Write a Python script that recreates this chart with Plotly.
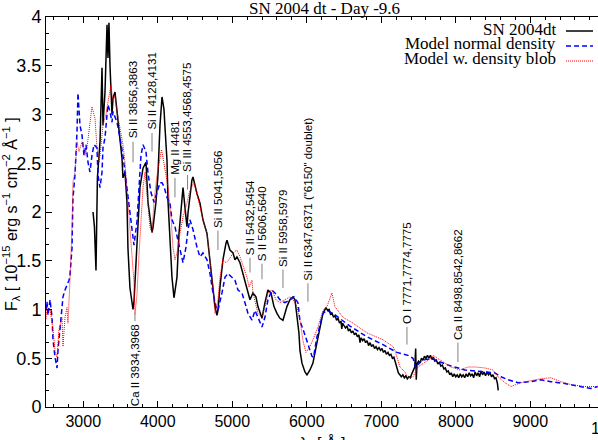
import plotly.graph_objects as go

# ---- observed spectrum SN 2004dt ----
obs_wave = [3131, 3150, 3171, 3190, 3225, 3238, 3252, 3265, 3292, 3319, 3332, 3345, 3359,
            3386, 3399, 3426, 3453, 3466, 3493, 3520, 3533, 3560, 3587, 3600, 3627, 3654,
            3668, 3681, 3694, 3721, 3761, 3802, 3842, 3869, 3923, 3936, 3976, 4003, 4030,
            4057, 4084, 4097, 4124, 4137, 4164, 4191, 4218, 4258, 4285, 4325, 4339, 4365,
            4392, 4406, 4432, 4459, 4473, 4500, 4526, 4567, 4607, 4661, 4674, 4701, 4728,
            4741, 4768, 4795, 4808, 4835, 4875, 4916, 4929, 4969, 5010, 5036, 5063, 5104,
            5144, 5198, 5238, 5278, 5318, 5345, 5399, 5439, 5479, 5520, 5560, 5600, 5640,
            5681, 5734, 5774, 5815, 5842, 5868, 5895, 5909, 5936, 5976, 6003, 6043, 6083,
            6137, 6177, 6217, 6258, 6280, 6300, 6320, 6340, 6360, 6380, 6400, 6420, 6440,
            6460, 6470, 6480, 6500, 6520, 6540, 6560, 6580, 6600, 6620, 6640, 6660, 6680,
            6700, 6715, 6730, 6750, 6770, 6790, 6810, 6830, 6850, 6870, 6890, 6910, 6930,
            6950, 6970, 6990, 7010, 7030, 7050, 7070, 7090, 7110, 7130, 7150, 7170, 7190,
            7210, 7230, 7250, 7270, 7290, 7310, 7330, 7350, 7370, 7390, 7410, 7430, 7450,
            7462, 7470, 7480, 7500, 7520, 7540, 7560, 7580, 7600, 7620, 7640, 7660, 7680,
            7700, 7720, 7740, 7760, 7780, 7800, 7820, 7840, 7860, 7880, 7900, 7920, 7940,
            7960, 7980, 8000, 8020, 8040, 8060, 8080, 8100, 8120, 8140, 8160, 8180, 8200,
            8220, 8240, 8260, 8280, 8300, 8320, 8340, 8360, 8380, 8400, 8420, 8440, 8460,
            8480, 8500, 8520, 8540, 8560, 8570]
obs_flux = [2.00, 1.85, 1.40, 2.35, 2.72, 3.00, 3.48, 2.89, 3.23, 3.92, 3.58, 3.94, 3.50,
            3.00, 3.17, 3.23, 3.03, 2.92, 2.72, 2.55, 2.35, 2.41, 2.10, 1.63, 1.22, 1.05,
            1.00, 1.08, 1.28, 1.63, 2.25, 2.45, 2.51, 2.10, 1.79, 1.84, 2.10, 2.38, 2.89,
            3.18, 3.05, 2.87, 2.53, 2.12, 1.64, 1.33, 1.12, 1.33, 1.78, 2.12, 2.25, 2.05,
            1.85, 1.99, 2.19, 2.33, 2.36, 2.26, 2.19, 2.09, 1.92, 1.78, 1.68, 1.51, 1.33,
            1.17, 1.03, 0.94, 0.99, 1.23, 1.51, 1.68, 1.71, 1.61, 1.58, 1.51, 1.54, 1.48,
            1.37, 1.20, 1.10, 1.17, 1.13, 1.03, 0.91, 1.07, 1.20, 1.17, 1.03, 0.96, 0.91,
            0.89, 1.03, 1.10, 1.13, 1.10, 0.92, 0.76, 0.58, 0.45, 0.36, 0.33, 0.38, 0.45,
            0.66, 0.82, 0.96, 1.02, 0.99, 1.00, 0.95, 0.96, 0.92, 0.94, 0.89, 0.91, 0.86,
            0.88, 0.80, 0.86, 0.84, 0.81, 0.83, 0.78, 0.80, 0.76, 0.78, 0.74, 0.76, 0.72,
            0.74, 0.66, 0.71, 0.68, 0.70, 0.66, 0.68, 0.63, 0.66, 0.62, 0.64, 0.60, 0.62,
            0.59, 0.61, 0.58, 0.60, 0.56, 0.58, 0.54, 0.56, 0.53, 0.54, 0.50, 0.51, 0.46,
            0.40, 0.35, 0.33, 0.31, 0.33, 0.30, 0.32, 0.29, 0.31, 0.30, 0.34, 0.37, 0.41,
            0.60, 0.28, 0.44, 0.47, 0.45, 0.50, 0.48, 0.52, 0.50, 0.53, 0.50, 0.53, 0.49,
            0.51, 0.47, 0.48, 0.44, 0.46, 0.42, 0.43, 0.39, 0.40, 0.36, 0.37, 0.33, 0.35,
            0.31, 0.34, 0.31, 0.33, 0.30, 0.34, 0.31, 0.33, 0.30, 0.34, 0.31, 0.35, 0.32,
            0.34, 0.30, 0.36, 0.32, 0.35, 0.31, 0.37, 0.33, 0.36, 0.32, 0.36, 0.33, 0.35,
            0.31, 0.33, 0.29, 0.30, 0.24, 0.17]

# ---- model, normal density ----
norm_wave = [2500, 2513, 2527, 2554, 2581, 2594, 2621, 2648, 2661, 2688, 2715, 2728, 2755,
             2782, 2809, 2822, 2849, 2862, 2889, 2916, 2929, 2956, 2983, 3010, 3037, 3064,
             3090, 3117, 3144, 3184, 3198, 3225, 3252, 3265, 3292, 3319, 3332, 3359, 3386,
             3399, 3453, 3493, 3533, 3560, 3587, 3627, 3668, 3681, 3721, 3748, 3775, 3802,
             3842, 3869, 3909, 3950, 3990, 4030, 4057, 4084, 4124, 4164, 4191, 4231, 4271,
             4325, 4339, 4379, 4406, 4432, 4473, 4526, 4567, 4607, 4661, 4701, 4741, 4781,
             4808, 4862, 4902, 4942, 4996, 5036, 5077, 5130, 5171, 5211, 5265, 5305, 5345,
             5399, 5439, 5479, 5533, 5573, 5640, 5707, 5774, 5828, 5882, 5909, 5949, 5989,
             6043, 6070, 6090, 6137, 6217, 6271, 6352, 6580, 6808, 7023, 7211, 7358, 7426,
             7466, 7519, 7600, 7700, 7895, 8123, 8338, 8526, 8607, 8701, 8835, 9009, 9143,
             9277, 9465, 9680, 9814, 9910]
norm_flux = [1.00, 1.08, 0.94, 1.10, 0.92, 0.69, 0.51, 0.40, 0.58, 0.79, 0.99, 1.13, 1.20,
             1.25, 1.30, 1.35, 1.63, 2.14, 2.38, 2.82, 3.22, 2.89, 2.79, 2.58, 2.69, 2.51,
             2.41, 2.58, 2.69, 2.66, 2.38, 2.25, 2.41, 2.66, 2.76, 3.00, 3.10, 3.03, 2.92,
             3.03, 2.92, 2.76, 2.58, 2.41, 2.25, 2.04, 1.79, 1.66, 1.90, 2.25, 2.58, 2.69,
             2.62, 2.40, 2.20, 2.10, 2.20, 2.30, 2.30, 2.26, 2.15, 2.09, 1.92, 1.85, 1.71,
             1.51, 1.48, 1.64, 1.82, 1.92, 1.82, 1.64, 1.54, 1.58, 1.51, 1.37, 1.17, 1.03,
             0.99, 1.17, 1.33, 1.37, 1.33, 1.30, 1.20, 1.17, 1.07, 0.96, 0.89, 0.99, 0.92,
             0.82, 0.92, 1.10, 1.20, 1.17, 1.10, 1.07, 1.10, 1.13, 1.07, 0.88, 0.80, 0.70,
             0.58, 0.52, 0.51, 0.72, 0.96, 0.99, 0.96, 0.83, 0.72, 0.64, 0.56, 0.53, 0.50,
             0.40, 0.46, 0.49, 0.49, 0.43, 0.38, 0.36, 0.35, 0.31, 0.28, 0.25, 0.26, 0.28,
             0.26, 0.24, 0.21, 0.19, 0.21]

# ---- model with density blob ----
blob_wave = [2500, 2513, 2554, 2594, 2621, 2648, 2674, 2715, 2728, 2755, 2782, 2795, 2822,
             2849, 2862, 2889, 2916, 2943, 2983, 3023, 3050, 3090, 3117, 3158, 3184, 3211,
             3225, 3265, 3305, 3332, 3372, 3399, 3426, 3453, 3493, 3533, 3560, 3587, 3614,
             3654, 3681, 3694, 3721, 3748, 3775, 3802, 3829, 3856, 3896, 3923, 3949, 3990,
             4017, 4050, 4070, 4097, 4137, 4178, 4204, 4231, 4258, 4298, 4339, 4392, 4419,
             4459, 4486, 4526, 4567, 4607, 4661, 4701, 4741, 4768, 4808, 4835, 4875, 4916,
             4956, 5010, 5063, 5104, 5144, 5198, 5225, 5265, 5278, 5318, 5345, 5399, 5439,
             5479, 5533, 5587, 5640, 5707, 5774, 5815, 5868, 5909, 5949, 5989, 6043, 6083,
             6150, 6217, 6271, 6338, 6378, 6486, 6621, 6808, 7023, 7157, 7184, 7251, 7318,
             7358, 7426, 7493, 7587, 7667, 7694, 7788, 7936, 8056, 8164, 8271, 8392, 8499,
             8566, 8660, 8741, 8875, 9009, 9143, 9277, 9411, 9546, 9733, 9910]
blob_flux = [0.90, 1.02, 1.00, 0.79, 0.58, 0.51, 0.79, 0.92, 0.62, 0.92, 1.02, 0.86, 1.30,
             1.84, 2.31, 2.41, 2.72, 2.62, 2.72, 2.58, 2.66, 2.89, 3.08, 2.96, 2.66, 2.51,
             2.58, 2.89, 3.00, 3.13, 3.30, 3.13, 3.20, 3.03, 2.86, 2.69, 2.51, 2.25, 1.90,
             1.56, 1.28, 0.95, 1.15, 1.56, 1.97, 2.25, 2.41, 2.14, 1.84, 1.79, 2.10, 2.38,
             2.51, 2.64, 2.56, 2.43, 2.26, 1.95, 1.64, 1.51, 1.58, 1.78, 1.95, 2.09, 2.19,
             2.26, 2.30, 2.19, 2.05, 1.92, 1.78, 1.51, 1.23, 0.96, 1.10, 1.33, 1.51, 1.48,
             1.51, 1.58, 1.61, 1.54, 1.44, 1.33, 1.23, 1.30, 1.17, 1.03, 0.96, 0.92, 1.03,
             1.17, 1.20, 1.10, 1.07, 1.10, 1.13, 1.10, 1.03, 0.89, 0.68, 0.56, 0.62, 0.69,
             0.82, 0.99, 1.03, 1.17, 1.03, 0.92, 0.86, 0.76, 0.69, 0.62, 0.58, 0.41, 0.36,
             0.30, 0.31, 0.41, 0.46, 0.50, 0.53, 0.48, 0.41, 0.38, 0.41, 0.41, 0.40, 0.38,
             0.31, 0.25, 0.21, 0.25, 0.27, 0.29, 0.30, 0.26, 0.23, 0.21, 0.21]

# ---- line identifications ----
id_names = ["Si II 3856,3863", "Si II 4128,4131", "Mg II 4481", "Si III 4553,4568,4575",
            "Si II 5041,5056", "S II 5432,5454", "S II 5606,5640", "Si II 5958,5979",
            "Si II 6347,6371 (\"6150\" doublet)", "O I 7771,7774,7775",
            "Ca II 8498,8542,8662"]
id_waves = [3668, 3923, 4231, 4400, 4808, 5238, 5399, 5681, 6016, 7345, 8029]
id_top = [2.72, 2.81, 2.35, 2.38, 1.81, 1.53, 1.47, 1.41, 1.27, 0.82, 0.66]
id_bot = [2.51, 2.62, 2.15, 2.23, 1.61, 1.38, 1.31, 1.22, 1.08, 0.64, 0.46]
ca_name = "Ca II 3934,3968"
ca_wave = 3694
ca_top, ca_bot = 0.96, 0.88

W, H = 598, 440
L, T, B = 46, 17, 33
PW = W - L
PH = H - T - B


def px(x):
    return (x - L) / PW


def py(y):
    return (H - B - y) / PH


SANS = "Liberation Sans, Arial, sans-serif"
SERIF = "Liberation Serif, Times New Roman, serif"

fig = go.Figure()
fig.add_trace(go.Scatter(x=obs_wave, y=obs_flux, mode="lines",
                         line=dict(color="black", width=1.5), showlegend=False))
fig.add_trace(go.Scatter(x=norm_wave, y=norm_flux, mode="lines",
                         line=dict(color="#0000ff", width=1.5, dash="5px,3px"),
                         showlegend=False))
fig.add_trace(go.Scatter(x=blob_wave, y=blob_flux, mode="lines",
                         line=dict(color="#ff0000", width=1, dash="1px,1px"),
                         showlegend=False))

# line id labels + leader lines
for name, w, t, b in zip(id_names, id_waves, id_top, id_bot):
    fig.add_shape(type="line", x0=w, x1=w, y0=b, y1=t, xref="x", yref="y",
                  line=dict(color="#808080", width=1))
    fig.add_annotation(x=w, y=t + 0.01, xref="x", yref="y", text=name,
                       textangle=-90, showarrow=False, xanchor="center",
                       yanchor="bottom", font=dict(family=SANS, size=11.5, color="black"))
fig.add_shape(type="line", x0=ca_wave, x1=ca_wave, y0=ca_bot, y1=ca_top,
              xref="x", yref="y", line=dict(color="#808080", width=1))
fig.add_annotation(x=ca_wave, y=ca_bot - 0.01, xref="x", yref="y", text=ca_name,
                   textangle=-90, showarrow=False, xanchor="center", yanchor="top",
                   font=dict(family=SANS, size=11.5, color="black"))

# hand-built legend (text left of sample, as in the original)
leg_names = ["SN 2004dt", "Model normal density", "Model w. density blob"]
leg_styles = [dict(color="black", width=1.5),
              dict(color="#0000ff", width=1.5, dash="5px,3px"),
              dict(color="#ff0000", width=1, dash="1px,1px")]
for i, (nm, st) in enumerate(zip(leg_names, leg_styles)):
    yy = 29 + 15 * i
    fig.add_annotation(x=px(558), y=py(yy), xref="paper", yref="paper", text=nm,
                       showarrow=False, xanchor="right", yanchor="middle",
                       font=dict(family=SERIF, size=17, color="black"))
    fig.add_shape(type="line", xref="paper", yref="paper", x0=px(566), x1=px(593),
                  y0=py(yy + 2), y1=py(yy + 2), line=st)

# title, axis titles
fig.add_annotation(x=px(324), y=py(8), xref="paper", yref="paper",
                   text="SN 2004 dt - Day -9.6", showarrow=False,
                   xanchor="center", yanchor="middle",
                   font=dict(family=SERIF, size=17, color="black"))
fig.add_annotation(x=px(11), y=py(214), xref="paper", yref="paper",
                   text="F<sub>λ</sub> [ 10<sup>−15</sup> erg s<sup>−1</sup> cm<sup>−2</sup> Å<sup>−1</sup> ]",
                   textangle=-90, showarrow=False, xanchor="center", yanchor="middle",
                   font=dict(family=SANS, size=16, color="black"))
fig.add_annotation(x=px(322), y=py(432), xref="paper", yref="paper",
                   text="λ  [ Å ]", showarrow=False, xanchor="center", yanchor="top",
                   font=dict(family=SANS, size=16, color="black"))
# the 10000 tick label falls just outside the cropped view
fig.add_annotation(x=px(613), y=py(428), xref="paper", yref="paper",
                   text="10000", showarrow=False, xanchor="center", yanchor="middle",
                   font=dict(family=SANS, size=16, color="black"))

fig.update_layout(
    width=W, height=H,
    margin=dict(l=L, r=0, t=T, b=B),
    paper_bgcolor="white", plot_bgcolor="white",
    showlegend=False,
    xaxis=dict(range=[2500, 2500 + PW * 1000 / 74.5], tickvals=[3000, 4000, 5000, 6000, 7000, 8000, 9000],
               ticks="inside", ticklen=6, tickcolor="black", showgrid=False, zeroline=False,
               showline=True, linecolor="black", linewidth=1, mirror="allticks",
               tickfont=dict(family=SANS, size=16, color="black"),
               minor=dict(dtick=200, tick0=0, ticks="inside", ticklen=3, tickcolor="black")),
    yaxis=dict(range=[0, 4], dtick=0.5, ticks="inside", ticklen=6, tickcolor="black",
               showgrid=False, zeroline=False, showline=True, linecolor="black", linewidth=1,
               tickfont=dict(family=SANS, size=18, color="black"),
               minor=dict(dtick=0.5 / 3, tick0=0, ticks="inside", ticklen=3, tickcolor="black")),
)

fig.write_html("out.html", config={"displayModeBar": False},
               post_script="document.body.style.margin='0';")
